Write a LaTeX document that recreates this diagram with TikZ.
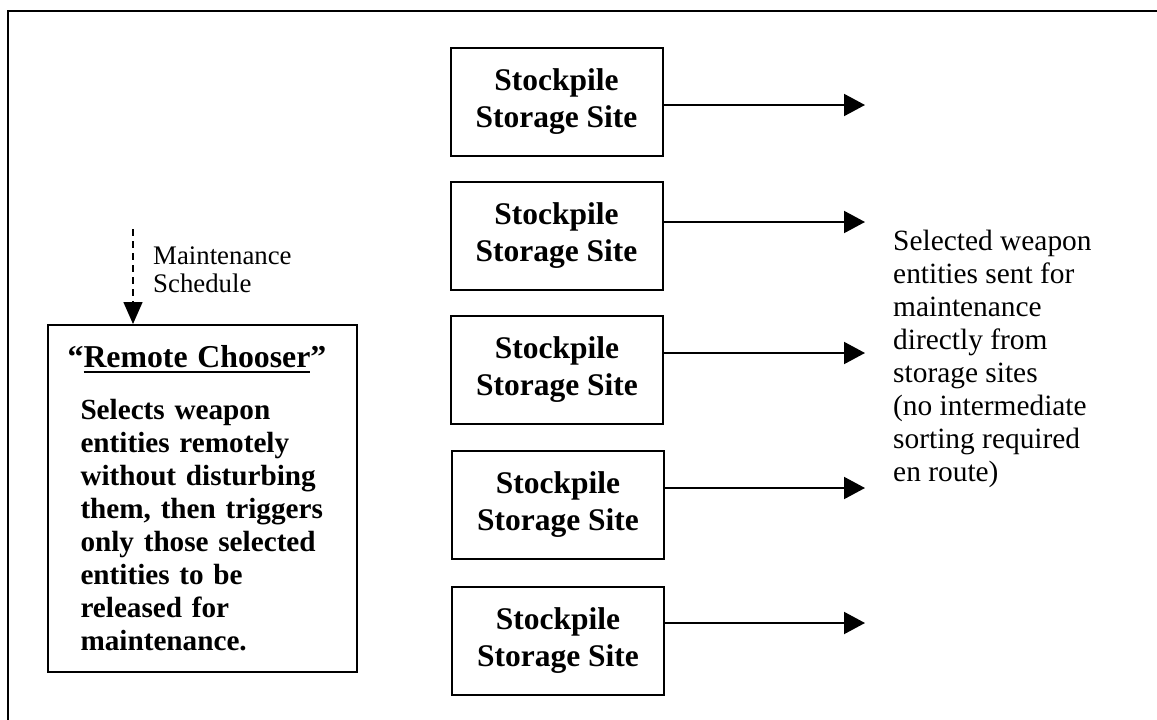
\documentclass[tikz,border=0pt]{standalone}
\usepackage{fontspec}
\setmainfont{Liberation Serif}
\usetikzlibrary{arrows.meta}

% underline with a fixed rule below the baseline
\newcommand\ulrule[1]{\setbox0\hbox{#1}\rlap{\rule[-5pt]{\wd0}{2pt}}\box0}

\begin{document}
\begin{tikzpicture}[x=1pt,y=-1pt,
  frame/.style={line width=2pt},
  sitebox/.style={draw, line width=2pt, minimum width=212pt, minimum height=108pt,
    inner sep=0pt, align=center, font=\fontsize{31.5}{37}\selectfont\bfseries},
  feed/.style={line width=2pt, -{Triangle[length=21pt,width=22pt]}},
  chooserbox/.style={draw, line width=2pt, minimum width=309pt, minimum height=347pt,
    inner sep=0pt, text width=244pt, align=left, font=\fontsize{29.2}{33}\selectfont\bfseries},
  schedline/.style={line width=1.5pt, dash pattern=on 7pt off 5pt, -{Triangle[length=22pt,width=19pt]}},
  note/.style={inner sep=0pt, align=left, anchor=north west}
]
\useasboundingbox (0,0) rectangle (1157,720);

% outer frame (only the top and left edges fall inside the page)
\draw[frame] (8,740) -- (8,11) -- (1180,11);

% storage sites
\node[sitebox] (s1) at (556.5,101.5) {Stockpile\\Storage Site};
\node[sitebox] (s2) at (556.5,235.5) {Stockpile\\Storage Site};
\node[sitebox] (s3) at (557,370) {Stockpile\\Storage Site};
\node[sitebox] (s4) at (558,505) {Stockpile\\Storage Site};
\node[sitebox] (s5) at (558,641) {Stockpile\\Storage Site};

% arrow ends
\coordinate (t1) at (865,105);
\coordinate (t2) at (865,222);
\coordinate (t3) at (865,353);
\coordinate (t4) at (865,488);
\coordinate (t5) at (865,623);

\draw[feed] (s1.east |- t1) -- (t1);
\draw[feed] (s2.east |- t2) -- (t2);
\draw[feed] (s3.east |- t3) -- (t3);
\draw[feed] (s4.east |- t4) -- (t4);
\draw[feed] (s5.east |- t5) -- (t5);

% outcome note
\node[note, font=\fontsize{29.4}{33}\selectfont] (sent) at (893,230)
  {Selected weapon\\entities sent for\\maintenance\\directly from\\storage sites\\(no intermediate\\sorting required\\en route)};

% remote chooser
\node[chooserbox] (chooser) at (202.5,498.5)
  {\makebox[\hsize]{\fontsize{31.8}{33}\selectfont “\ulrule{Remote Chooser}”\hspace*{11pt}}\\[19pt]
   Selects weapon\\entities remotely\\without disturbing\\them, then triggers\\only those selected\\entities to be\\released for\\maintenance.};

% schedule input
\coordinate (sched) at (133,229);
\draw[schedline] (sched) -- (sched |- chooser.north);
\node[note, font=\fontsize{26.8}{28}\selectfont] (schedlabel) at (153,247)
  {Maintenance\\Schedule};
\end{tikzpicture}
\end{document}
